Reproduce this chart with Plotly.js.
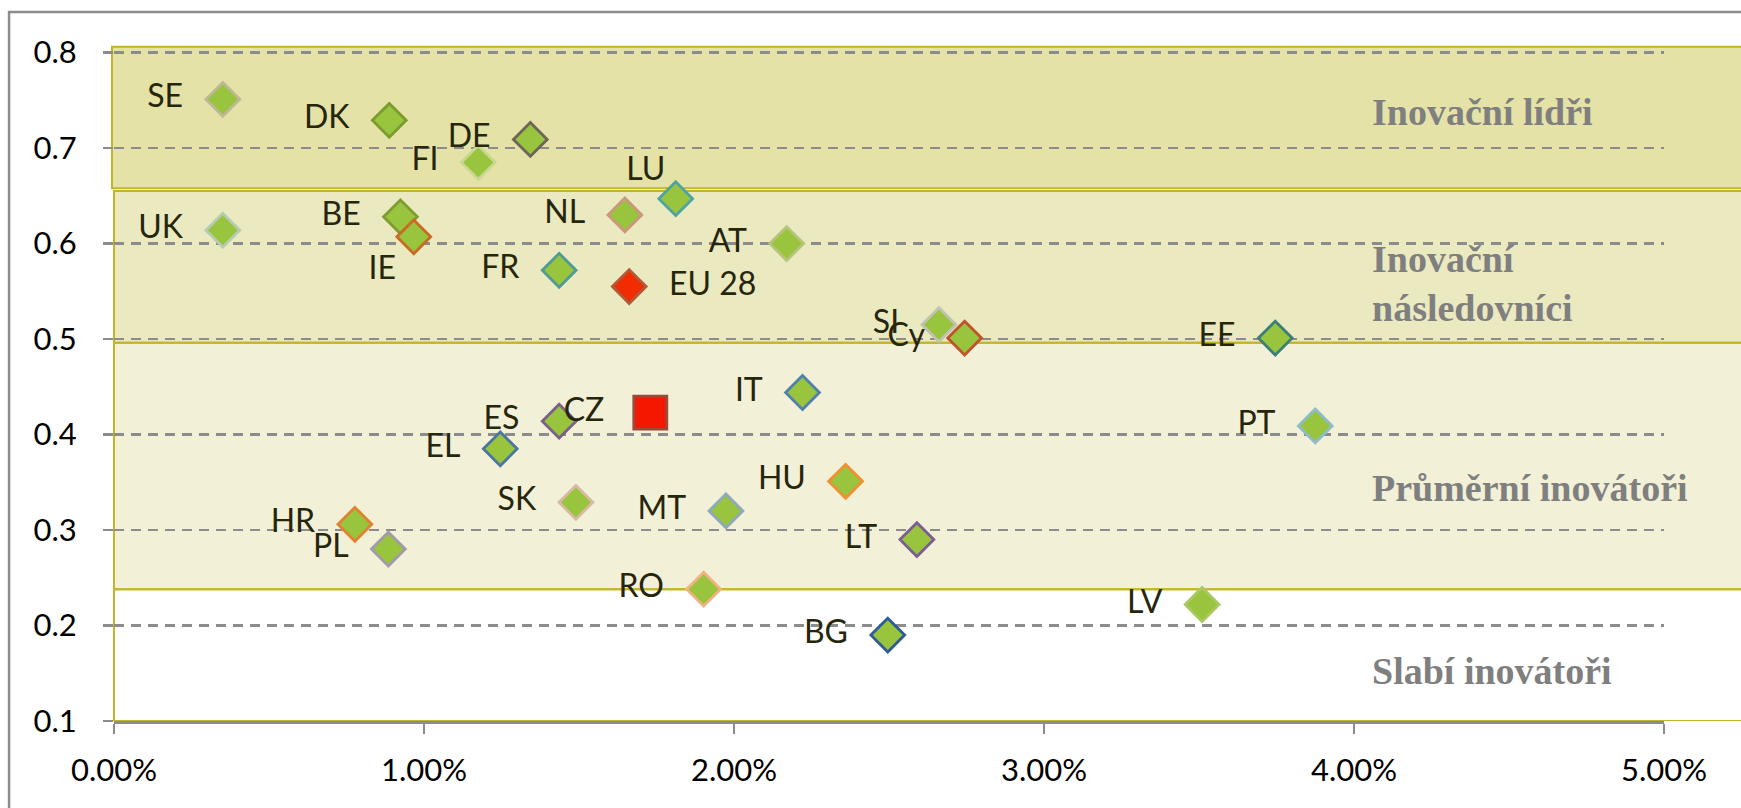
<!DOCTYPE html>
<html>
<head>
<meta charset="utf-8">
<script src="https://cdn.plot.ly/plotly-3.0.1.min.js"></script>
<style>
  html, body { margin: 0; padding: 0; background: #fff; }
  #chart { width: 1741px; height: 808px; }
</style>
</head>
<body>
<div id="chart"></div>
<script>
// values
var countries = ["SE", "DK", "DE", "FI", "LU", "UK", "BE", "IE", "NL", "AT", "FR", "EU 28", "SI", "Cy", "EE",
    "IT", "CZ", "ES", "EL", "PT", "HU", "SK", "MT", "HR", "PL", "LT", "RO", "LV", "BG"];
var rdShare = [0.00351, 0.00888, 0.01343, 0.01175, 0.01812, 0.00351, 0.00924, 0.00967, 0.01648, 0.02170, 0.01436,
    0.01662, 0.02661, 0.02744, 0.03746, 0.02221, 0.01730, 0.01436, 0.01246, 0.03875, 0.02360, 0.01490, 0.01974,
    0.00777, 0.00885, 0.02590, 0.01902, 0.03510, 0.02496];
var innovIndex = [0.751, 0.729, 0.709, 0.685, 0.647, 0.614, 0.628, 0.607, 0.630, 0.600, 0.572,
    0.555, 0.515, 0.501, 0.501, 0.444, 0.423, 0.414, 0.385, 0.409, 0.351, 0.329, 0.320,
    0.306, 0.280, 0.290, 0.238, 0.222, 0.190];

// performance groups
var bandNames = ["Inovační lídři", "Inovační<br>následovníci", "Průměrní inovátoři", "Slabí inovátoři"];
var bandTop = [0.806, 0.655, 0.496, 0.238];
var bandBottom = [0.658, 0.496, 0.238, 0.1];
var bandLabelY = [0.738, 0.558, 0.344, 0.152];
var bandLabelX = 0.0405;

// styling per point
var lineColors = ["#bdb896", "#7d9a2c", "#6e6458", "#c8d890", "#4fa4a0", "#b6ccb2", "#7f9c32", "#c86a22",
    "#cc987c", "#b6c47c", "#4e9a94", "#b05a3a", "#c0c2b2", "#c2522c", "#3b7f78", "#5080ae", "#9a4a3a",
    "#7b6088", "#4a76a0", "#8ebcc8", "#f09032", "#d8baa2", "#8ea8bc", "#e08232", "#a29aaa", "#7b5e92",
    "#f2b282", "#a9c862", "#2f5b96"];
var fillColors = countries.map(function(c) {
    if (c === "EU 28") return "#f02c00";
    if (c === "CZ") return "#f41800";
    return "#99c43e";
});
var symbols = countries.map(function(c) { return c === "CZ" ? "square" : "diamond"; });
var markSizes = countries.map(function(c) { return c === "CZ" ? 33 : 26; });
var textPos = countries.map(function(c) {
    if (c === "LU") return "top left";
    if (c === "IE") return "bottom left";
    if (c === "EU 28") return "middle right";
    return "middle left";
});
var labelPad = countries.map(function(c) {
    if (c === "LU") return 15;
    if (c === "IE") return 27;
    if (c === "CZ") return 72;
    return 62;
});

var points = {
    x: rdShare,
    y: innovIndex,
    type: "scatter",
    mode: "markers",
    marker: {symbol: symbols, size: markSizes, color: fillColors, opacity: 1,
        line: {color: lineColors, width: 2.8}},
    hoverinfo: "skip"
};

var labels = {
    x: rdShare,
    y: innovIndex,
    type: "scatter",
    mode: "markers+text",
    text: countries,
    textposition: textPos,
    textfont: {family: "Lato, sans-serif", size: 32, color: "#26260c"},
    marker: {size: labelPad, color: "rgba(0,0,0,0)", opacity: 1, line: {width: 0}},
    cliponaxis: false,
    hoverinfo: "skip"
};

var bandFills = ["rgba(188,183,35,0.4)", "rgba(188,182,45,0.3)", "rgba(190,180,50,0.2)", "rgba(0,0,0,0)"];
var shapes = bandTop.map(function(top, i) {
    return {
        type: "rect", layer: "between",
        xref: "paper", yref: "y",
        x0: i === 0 ? -0.0013 : 0, x1: 1.1,
        y0: bandBottom[i], y1: top,
        fillcolor: bandFills[i],
        line: {color: "#c2b528", width: 2}
    };
});
// outer frame of the chart
shapes.push({
    type: "rect", layer: "below", xref: "paper", yref: "paper",
    x0: -0.0677, x1: 1.2, y0: -0.3, y1: 1.0457,
    line: {color: "#8c8c8c", width: 2.5}
});

var annotations = bandNames.map(function(name, i) {
    return {
        x: bandLabelX, y: bandLabelY[i], xref: "x", yref: "y",
        text: name, showarrow: false, xanchor: "left", align: "left",
        font: {family: "Liberation Serif, serif", size: 38, color: "#7f7f7f", weight: "bold"}
    };
});

var layout = {
    width: 1741,
    height: 808,
    margin: {l: 114, r: 77, t: 43, b: 87},
    paper_bgcolor: "#ffffff",
    plot_bgcolor: "rgba(0,0,0,0)",
    showlegend: false,
    hovermode: false,
    xaxis: {
        range: [0, 0.05], dtick: 0.01, tickformat: ".2%",
        showgrid: false, zeroline: false,
        showline: true, linecolor: "#8c8c8c", linewidth: 3,
        ticks: "outside", ticklen: 10, tickwidth: 2, tickcolor: "#8c8c8c",
        ticklabelstandoff: 10,
        tickfont: {family: "Lato, sans-serif", size: 31, color: "#000"},
        automargin: false
    },
    yaxis: {
        range: [0.1, 0.81], tick0: 0.1, dtick: 0.1, tickformat: ".1f",
        showgrid: true, gridcolor: "#8c8c8c", gridwidth: 2.5, griddash: "10px,7px",
        zeroline: false, showline: false,
        ticks: "outside", ticklen: 10, tickwidth: 2.5, tickcolor: "#8c8c8c",
        ticklabelstandoff: 20,
        tickfont: {family: "Lato, sans-serif", size: 31, color: "#000"},
        automargin: false
    },
    shapes: shapes,
    annotations: annotations
};

Plotly.newPlot("chart", [points, labels], layout, {displayModeBar: false, staticPlot: true});
</script>
</body>
</html>
